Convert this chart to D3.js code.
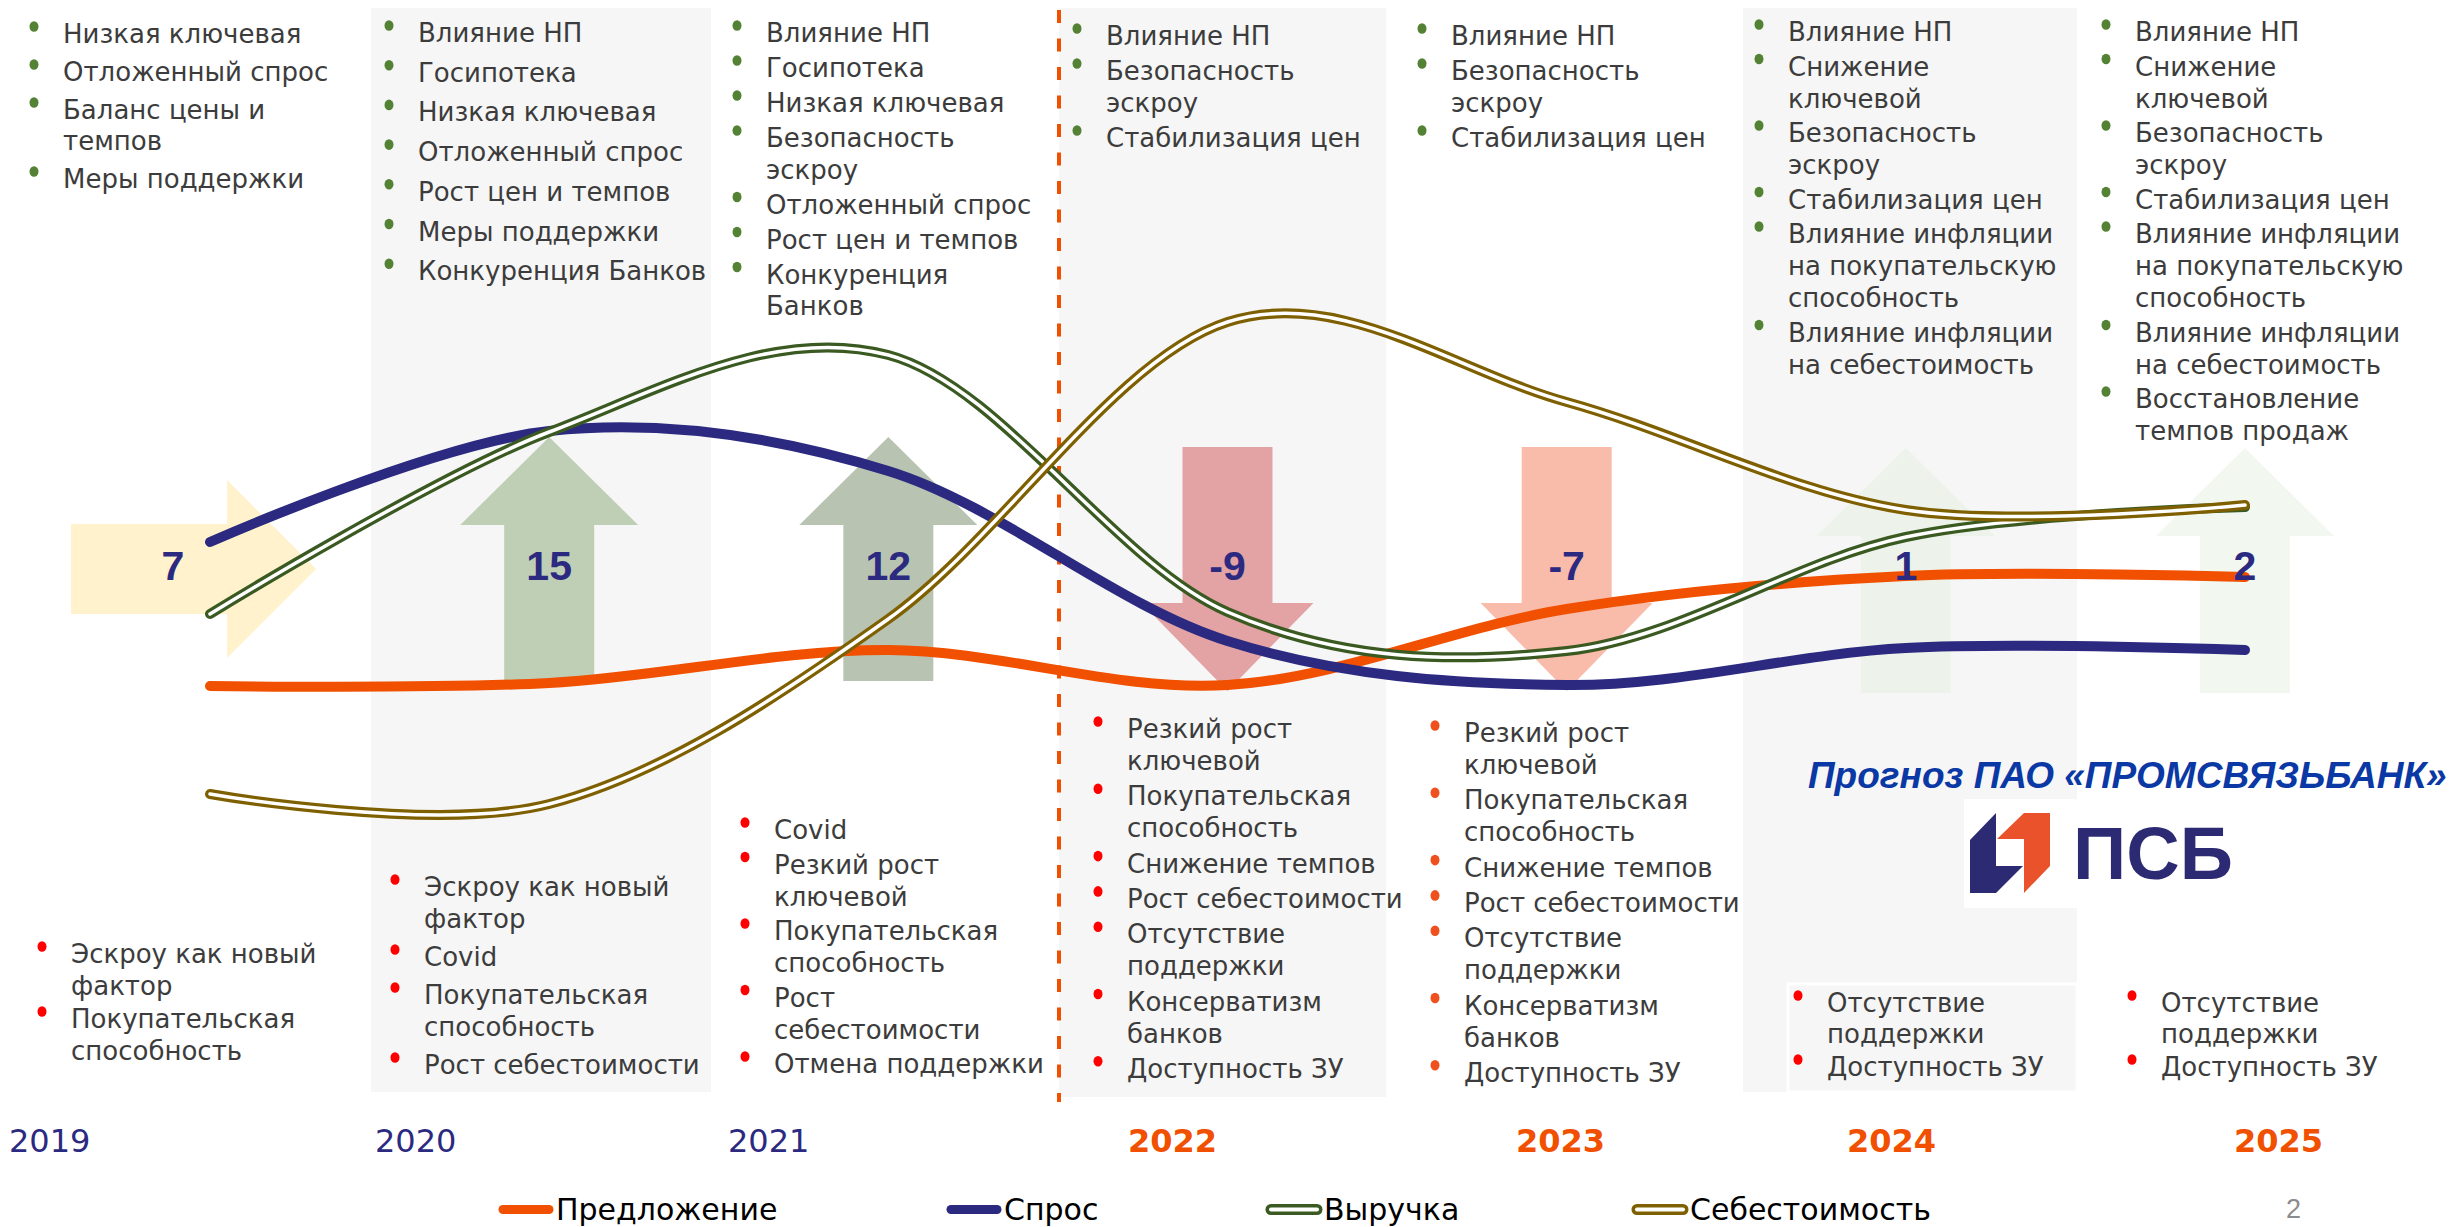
<!DOCTYPE html>
<html><head><meta charset="utf-8">
<script src="https://cdn.jsdelivr.net/npm/d3@7"></script>
<style>html,body{margin:0;padding:0;background:#fff;overflow:hidden} svg{display:block}</style>
</head><body><svg id="c" width="2458" height="1227"></svg>
<script>
// ---------------- DATA ----------------
const years = ["2019","2020","2021","2022","2023","2024","2025"];
const forecastYears = ["2022","2023","2024","2025"];
const seriesNames = ["Предложение","Спрос","Выручка","Себестоимость"];
// relative index values (no axis in the original)
const supply  = [2.68, 2.74, 3.40, 2.70, 4.22, 4.88, 4.86];   // Предложение
const demand  = [5.56, 7.78, 6.98, 3.58, 2.70, 3.44, 3.40];   // Спрос
const revenue = [4.12, 7.76, 9.30, 4.16, 3.38, 5.66, 6.26];   // Выручка
const cost    = [0.52, 0.32, 4.02, 9.96, 8.36, 6.20, 6.30];   // Себестоимость
const marketChange = [7, 15, 12, -9, -7, 1, 2];
const marketLabels = ["7","15","12","-9","-7","1","2"];

const positiveFactors = [
  [["Низкая ключевая"],["Отложенный спрос"],["Баланс цены и","темпов"],["Меры поддержки"]],
  [["Влияние НП"],["Госипотека"],["Низкая ключевая"],["Отложенный спрос"],["Рост цен и темпов"],["Меры поддержки"],["Конкуренция Банков"]],
  [["Влияние НП"],["Госипотека"],["Низкая ключевая"],["Безопасность","эскроу"],["Отложенный спрос"],["Рост цен и темпов"],["Конкуренция","Банков"]],
  [["Влияние НП"],["Безопасность","эскроу"],["Стабилизация цен"]],
  [["Влияние НП"],["Безопасность","эскроу"],["Стабилизация цен"]],
  [["Влияние НП"],["Снижение","ключевой"],["Безопасность","эскроу"],["Стабилизация цен"],["Влияние инфляции","на покупательскую","способность"],["Влияние инфляции","на себестоимость"]],
  [["Влияние НП"],["Снижение","ключевой"],["Безопасность","эскроу"],["Стабилизация цен"],["Влияние инфляции","на покупательскую","способность"],["Влияние инфляции","на себестоимость"],["Восстановление","темпов продаж"]]
];
const negativeFactors = [
  [["Эскроу как новый","фактор"],["Покупательская","способность"]],
  [["Эскроу как новый","фактор"],["Covid"],["Покупательская","способность"],["Рост себестоимости"]],
  [["Covid"],["Резкий рост","ключевой"],["Покупательская","способность"],["Рост","себестоимости"],["Отмена поддержки"]],
  [["Резкий рост","ключевой"],["Покупательская","способность"],["Снижение темпов"],["Рост себестоимости"],["Отсутствие","поддержки"],["Консерватизм","банков"],["Доступность ЗУ"]],
  [["Резкий рост","ключевой"],["Покупательская","способность"],["Снижение темпов"],["Рост себестоимости"],["Отсутствие","поддержки"],["Консерватизм","банков"],["Доступность ЗУ"]],
  [["Отсутствие","поддержки"],["Доступность ЗУ"]],
  [["Отсутствие","поддержки"],["Доступность ЗУ"]]
];
const forecastTitle = "Прогноз ПАО «ПРОМСВЯЗЬБАНК»";
const logoText = "ПСБ";
const pageNumber = "2";

// ---------------- LAYOUT / STYLE ----------------
const colors = {supply:"#f05000", demand:"#2b2a80", revenue:"#3a5a22", cost:"#7f6000",
  text:"#3c3c3c", green:"#548235", red:"#ff0000", orangeBullet:"#f0501e", gray:"#f6f6f6"};
const arrowFills = ["#fff2cc","#bfcfb5","#b8c4b1","#e3a2a3","#f9bcab","#edf3ea","#f2f7f0"];
const layout = {
  xRange:[210, 2245], yRange:[820, 320],
  grayCols:[[371,711,8,1092],[1059,1386,8,1097],[1743,2077,8,1092]],
  topCols:{x:[63,418,766,1106,1451,1788,2135], y0:[43,42,42,45,45,41,41],
           item:[38,39.7,35,35,35,34.5,34.5], line:[31,31,31.5,32,32,32,32]},
  botCols:{x:[71,424,774,1127,1464,1827,2161], y0:[963,896,839,738,742,1012,1012],
           item:[33,38,34.5,35.3,35.3,33,33], line:[32,32,32,32,32,31,31]},
  yearX:[9,375,728,1128,1516,1847,2234], yearY:1152
};
const FONT = "'DejaVu Sans', Verdana, sans-serif";

const svg = d3.select("#c");
const x = d3.scalePoint().domain(years).range(layout.xRange);
const y = d3.scaleLinear().domain([0,10]).range(layout.yRange);

// gray column backgrounds
svg.selectAll("rect.col").data(layout.grayCols).join("rect")
  .attr("x",d=>d[0]).attr("y",d=>d[2]).attr("width",d=>d[1]-d[0]).attr("height",d=>d[3]-d[2])
  .attr("fill",colors.gray);
svg.append("rect").attr("x",1788).attr("y",984).attr("width",289).attr("height",108)
  .attr("fill",colors.gray).attr("stroke","#fff").attr("stroke-width",3);

// dashed forecast divider
svg.append("line").attr("x1",1059).attr("x2",1059).attr("y1",10).attr("y2",1102)
  .attr("stroke",colors.supply).attr("stroke-width",4).attr("stroke-dasharray","13 15.5");

// ---------------- ARROWS ----------------
const gA = svg.append("g");
marketChange.forEach((v,i)=>{
  let pts;
  const cx = x(years[i]);
  if(i===0){
    const x0 = 71, xb = 227, xt = 316, cy = 569;
    pts = [[x0,cy-45],[xb,cy-45],[xb,cy-89],[xt,cy],[xb,cy+89],[xb,cy+45],[x0,cy+45]];
  } else if(v>0){
    const f = forecastYears.includes(years[i]);
    const top = f?448:437, base = top+88, bot = f?693:681;
    pts = [[cx,top],[cx+89,base],[cx+45,base],[cx+45,bot],[cx-45,bot],[cx-45,base],[cx-89,base]];
  } else {
    const top = 447, base = 603, tip = 691;
    pts = [[cx-45,top],[cx+45,top],[cx+45,base],[cx+86,base],[cx,tip],[cx-86,base],[cx-45,base]];
  }
  gA.append("path").attr("d","M"+pts.map(p=>p.join(",")).join("L")+"Z").attr("fill",arrowFills[i]);
});

// ---------------- LINES ----------------
const lineGen = d3.line().x((d,i)=>x(years[i])).y(d=>y(d)).curve(d3.curveCardinal.tension(0));
const gL = svg.append("g").attr("fill","none").attr("stroke-linecap","round").attr("stroke-linejoin","round");
gL.append("path").attr("d",lineGen(supply)).attr("stroke",colors.supply).attr("stroke-width",10);
gL.append("path").attr("d",lineGen(demand)).attr("stroke",colors.demand).attr("stroke-width",10);
[[revenue,colors.revenue],[cost,colors.cost]].forEach(([s,c])=>{
  gL.append("path").attr("d",lineGen(s)).attr("stroke",c).attr("stroke-width",10);
  gL.append("path").attr("d",lineGen(s)).attr("stroke","#fff").attr("stroke-width",3.5);
});

// arrow labels
const gAL = svg.append("g").attr("font-family","'Liberation Sans', Arial, sans-serif")
  .attr("font-weight","bold").attr("font-size",41).attr("fill",colors.demand).attr("text-anchor","middle");
marketLabels.forEach((t,i)=>{
  const lx = i===0 ? 173 : x(years[i]);
  gAL.append("text").attr("x",lx).attr("y",580).text(t);
});

// ---------------- BULLET TEXT ----------------
function bulletBlock(items, cx, y0, item, line, bulletColor){
  const g = svg.append("g").attr("font-family",FONT).attr("font-size",26).attr("fill",colors.text);
  let yy = y0;
  items.forEach((lines,k)=>{
    if(k>0) yy += item;
    g.append("ellipse").attr("cx",cx-29).attr("cy",yy-16.5).attr("rx",4.5).attr("ry",5.3).attr("fill",bulletColor);
    lines.forEach((ln,j)=>{
      if(j>0) yy += line;
      g.append("text").attr("x",cx).attr("y",yy).text(ln);
    });
  });
}
positiveFactors.forEach((items,i)=>{
  const c = layout.topCols;
  bulletBlock(items, c.x[i], c.y0[i], c.item[i], c.line[i], colors.green);
});
negativeFactors.forEach((items,i)=>{
  const c = layout.botCols;
  bulletBlock(items, c.x[i], c.y0[i], c.item[i], c.line[i], years[i]==="2023"?colors.orangeBullet:colors.red);
});

// ---------------- YEARS ----------------
svg.append("g").selectAll("text").data(years).join("text")
  .attr("x",(d,i)=>layout.yearX[i]).attr("y",layout.yearY)
  .attr("font-family",FONT).attr("font-size",32)
  .attr("font-weight",d=>forecastYears.includes(d)?"bold":"normal")
  .attr("fill",d=>forecastYears.includes(d)?colors.supply:colors.demand)
  .text(d=>d);

// ---------------- LOGO ----------------
svg.append("rect").attr("x",1964).attr("y",799).attr("width",290).attr("height",109).attr("fill","#fff");
svg.append("text").attr("x",1808).attr("y",788)
  .attr("font-family","'Liberation Sans', Arial, sans-serif").attr("font-weight","bold").attr("font-style","italic")
  .attr("font-size",37).attr("fill","#0a38a4").text(forecastTitle);
svg.append("path").attr("d","M1970,840L1996,813L1996,866L2023,866L1996,893L1970,893Z").attr("fill","#2b2a73");
svg.append("path").attr("d","M1997,839L2024,813L2050,813L2050,866L2024,893L2024,839Z").attr("fill","#e9522a");
svg.append("text").attr("x",2073).attr("y",879)
  .attr("font-family","'Liberation Sans', Arial, sans-serif").attr("font-weight","bold")
  .attr("font-size",74).attr("fill","#2b2a73").text(logoText);

// ---------------- LEGEND ----------------
const legX = [498, 946, 1266, 1632];
const legC = [colors.supply, colors.demand, colors.revenue, colors.cost];
const gLeg = svg.append("g");
seriesNames.forEach((n,i)=>{
  const lx = legX[i];
  gLeg.append("line").attr("x1",lx+5).attr("x2",lx+51).attr("y1",1209.5).attr("y2",1209.5)
    .attr("stroke",legC[i]).attr("stroke-width",i<2?9:11).attr("stroke-linecap","round");
  if(i>=2) gLeg.append("line").attr("x1",lx+5).attr("x2",lx+51).attr("y1",1209.5).attr("y2",1209.5)
    .attr("stroke","#fff").attr("stroke-width",4).attr("stroke-linecap","round");
  gLeg.append("text").attr("x",lx+58).attr("y",1220).attr("font-family",FONT).attr("font-size",30)
    .attr("fill","#000").text(n);
});
svg.append("text").attr("x",2286).attr("y",1218).attr("font-family","'Liberation Sans', Arial, sans-serif")
  .attr("font-size",27).attr("fill","#8c8c8c").text(pageNumber);
</script></body></html>
